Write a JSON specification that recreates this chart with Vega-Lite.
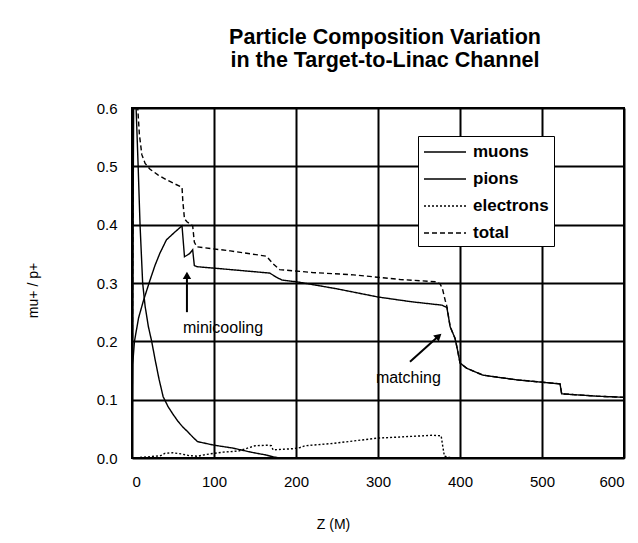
{
  "$schema": "https://vega.github.io/schema/vega-lite/v6.json",
  "width": 492,
  "height": 350,
  "autosize": {"type": "none"},
  "padding": {"left": 132, "top": 108, "right": 14, "bottom": 85},
  "background": "white",
  "config": {
    "font": "Liberation Sans",
    "view": {"stroke": "black", "strokeWidth": 2},
    "axis": {"gridColor": "black", "gridWidth": 2, "gridOpacity": 1, "domain": false, "ticks": false, "tickSize": 0, "labelColor": "black", "titleColor": "black", "labelFont": "Liberation Sans", "titleFont": "Liberation Sans"}
  },
  "title": {
    "text": ["Particle Composition Variation", "in the Target-to-Linac Channel"],
    "font": "Liberation Sans",
    "fontSize": 21.5,
    "fontWeight": "bold",
    "color": "black",
    "anchor": "middle",
    "dx": 7,
    "offset": 30,
    "lineHeight": 23
  },
  "datasets": {
    "lines": [
      {"series": "muons", "z": 0, "v": 0},
      {"series": "muons", "z": 0.8, "v": 0.16},
      {"series": "muons", "z": 3, "v": 0.2},
      {"series": "muons", "z": 8, "v": 0.24},
      {"series": "muons", "z": 14, "v": 0.27},
      {"series": "muons", "z": 22, "v": 0.305},
      {"series": "muons", "z": 28, "v": 0.33},
      {"series": "muons", "z": 34, "v": 0.351},
      {"series": "muons", "z": 42, "v": 0.374},
      {"series": "muons", "z": 52, "v": 0.387},
      {"series": "muons", "z": 61, "v": 0.398},
      {"series": "muons", "z": 64, "v": 0.345},
      {"series": "muons", "z": 70, "v": 0.35},
      {"series": "muons", "z": 74, "v": 0.357},
      {"series": "muons", "z": 76, "v": 0.33},
      {"series": "muons", "z": 79, "v": 0.328},
      {"series": "muons", "z": 120, "v": 0.323},
      {"series": "muons", "z": 168, "v": 0.317},
      {"series": "muons", "z": 176, "v": 0.31},
      {"series": "muons", "z": 183, "v": 0.305},
      {"series": "muons", "z": 201, "v": 0.302},
      {"series": "muons", "z": 250, "v": 0.29},
      {"series": "muons", "z": 300, "v": 0.276},
      {"series": "muons", "z": 340, "v": 0.268},
      {"series": "muons", "z": 378, "v": 0.262},
      {"series": "muons", "z": 384, "v": 0.258},
      {"series": "muons", "z": 388, "v": 0.225},
      {"series": "muons", "z": 394, "v": 0.205},
      {"series": "muons", "z": 397, "v": 0.185},
      {"series": "muons", "z": 400, "v": 0.163},
      {"series": "muons", "z": 408, "v": 0.154},
      {"series": "muons", "z": 428, "v": 0.142},
      {"series": "muons", "z": 469, "v": 0.134},
      {"series": "muons", "z": 522, "v": 0.127},
      {"series": "muons", "z": 524, "v": 0.11},
      {"series": "muons", "z": 567, "v": 0.106},
      {"series": "muons", "z": 600, "v": 0.104},
      {"series": "pions", "z": 0, "v": 0},
      {"series": "pions", "z": 2, "v": 0.6},
      {"series": "pions", "z": 5, "v": 0.6},
      {"series": "pions", "z": 7.5, "v": 0.5},
      {"series": "pions", "z": 9.8, "v": 0.4},
      {"series": "pions", "z": 13, "v": 0.3},
      {"series": "pions", "z": 16, "v": 0.26},
      {"series": "pions", "z": 20, "v": 0.225},
      {"series": "pions", "z": 24, "v": 0.2},
      {"series": "pions", "z": 28, "v": 0.17},
      {"series": "pions", "z": 33, "v": 0.135},
      {"series": "pions", "z": 38, "v": 0.105},
      {"series": "pions", "z": 44, "v": 0.088},
      {"series": "pions", "z": 50, "v": 0.075},
      {"series": "pions", "z": 56, "v": 0.063},
      {"series": "pions", "z": 62, "v": 0.053},
      {"series": "pions", "z": 68, "v": 0.045},
      {"series": "pions", "z": 74, "v": 0.036},
      {"series": "pions", "z": 80, "v": 0.028},
      {"series": "pions", "z": 100, "v": 0.022},
      {"series": "pions", "z": 123, "v": 0.017},
      {"series": "pions", "z": 145, "v": 0.01},
      {"series": "pions", "z": 164, "v": 0.005},
      {"series": "pions", "z": 172, "v": 0.002},
      {"series": "pions", "z": 180, "v": 0},
      {"series": "pions", "z": 600, "v": 0},
      {"series": "electrons", "z": 0, "v": 0},
      {"series": "electrons", "z": 20, "v": 0.002},
      {"series": "electrons", "z": 35, "v": 0.004},
      {"series": "electrons", "z": 40, "v": 0.008},
      {"series": "electrons", "z": 50, "v": 0.009},
      {"series": "electrons", "z": 60, "v": 0.007},
      {"series": "electrons", "z": 70, "v": 0.004},
      {"series": "electrons", "z": 80, "v": 0.003},
      {"series": "electrons", "z": 90, "v": 0.006},
      {"series": "electrons", "z": 100, "v": 0.008},
      {"series": "electrons", "z": 111, "v": 0.01},
      {"series": "electrons", "z": 130, "v": 0.012},
      {"series": "electrons", "z": 150, "v": 0.021},
      {"series": "electrons", "z": 165, "v": 0.022},
      {"series": "electrons", "z": 170, "v": 0.021},
      {"series": "electrons", "z": 172, "v": 0.014},
      {"series": "electrons", "z": 197, "v": 0.016},
      {"series": "electrons", "z": 205, "v": 0.018},
      {"series": "electrons", "z": 211, "v": 0.021},
      {"series": "electrons", "z": 245, "v": 0.025},
      {"series": "electrons", "z": 299, "v": 0.034},
      {"series": "electrons", "z": 340, "v": 0.037},
      {"series": "electrons", "z": 367, "v": 0.039},
      {"series": "electrons", "z": 377, "v": 0.038},
      {"series": "electrons", "z": 379, "v": 0.02},
      {"series": "electrons", "z": 381, "v": 0.003},
      {"series": "electrons", "z": 390, "v": 0},
      {"series": "electrons", "z": 600, "v": 0},
      {"series": "total", "z": 0, "v": 0},
      {"series": "total", "z": 1.5, "v": 0.6},
      {"series": "total", "z": 7, "v": 0.6},
      {"series": "total", "z": 9, "v": 0.555},
      {"series": "total", "z": 12, "v": 0.52},
      {"series": "total", "z": 16, "v": 0.505},
      {"series": "total", "z": 22, "v": 0.495},
      {"series": "total", "z": 32, "v": 0.485},
      {"series": "total", "z": 42, "v": 0.477},
      {"series": "total", "z": 52, "v": 0.47},
      {"series": "total", "z": 61, "v": 0.464},
      {"series": "total", "z": 62, "v": 0.44},
      {"series": "total", "z": 64, "v": 0.41},
      {"series": "total", "z": 67, "v": 0.405},
      {"series": "total", "z": 74, "v": 0.398},
      {"series": "total", "z": 76, "v": 0.37},
      {"series": "total", "z": 79, "v": 0.362},
      {"series": "total", "z": 120, "v": 0.355},
      {"series": "total", "z": 164, "v": 0.346},
      {"series": "total", "z": 172, "v": 0.333},
      {"series": "total", "z": 180, "v": 0.323},
      {"series": "total", "z": 220, "v": 0.318},
      {"series": "total", "z": 270, "v": 0.314},
      {"series": "total", "z": 327, "v": 0.306},
      {"series": "total", "z": 372, "v": 0.302},
      {"series": "total", "z": 376, "v": 0.298},
      {"series": "total", "z": 379, "v": 0.288},
      {"series": "total", "z": 382, "v": 0.27},
      {"series": "total", "z": 384, "v": 0.26},
      {"series": "total", "z": 388, "v": 0.225},
      {"series": "total", "z": 394, "v": 0.205},
      {"series": "total", "z": 397, "v": 0.185},
      {"series": "total", "z": 400, "v": 0.163},
      {"series": "total", "z": 408, "v": 0.154},
      {"series": "total", "z": 428, "v": 0.142},
      {"series": "total", "z": 469, "v": 0.134},
      {"series": "total", "z": 522, "v": 0.127},
      {"series": "total", "z": 524, "v": 0.11},
      {"series": "total", "z": 567, "v": 0.106},
      {"series": "total", "z": 600, "v": 0.104}
    ]
  },
  "layer": [
    {
      "data": {"name": "lines"},
      "mark": {"type": "line", "color": "black", "strokeWidth": 1.4, "clip": true},
      "encoding": {
        "x": {
          "field": "z", "type": "quantitative",
          "scale": {"domain": [0, 600], "nice": false},
          "axis": {"values": [0, 100, 200, 300, 400, 500, 600], "title": "Z (M)", "labelFontSize": 15, "labelPadding": 16, "titleFontSize": 14, "titleFontWeight": "normal", "titleX": 201, "titleY": 66, "titleBaseline": "middle", "titleAlign": "center"}
        },
        "y": {
          "field": "v", "type": "quantitative",
          "scale": {"domain": [0, 0.6], "nice": false},
          "axis": {"values": [0, 0.1, 0.2, 0.3, 0.4, 0.5, 0.6], "format": ".1f", "title": "mu+ / p+", "labelFontSize": 15, "labelPadding": 15, "titleFontSize": 14, "titleFontWeight": "normal", "titleX": -99, "titleY": 182, "titleAngle": -90, "titleBaseline": "middle", "titleAlign": "center"}
        },
        "strokeDash": {
          "field": "series", "type": "nominal",
          "scale": {"domain": ["muons", "pions", "electrons", "total"], "range": [[1, 0], [1, 0], [2, 2], [5, 3]]},
          "legend": {
            "title": null, "orient": "none", "legendX": 286, "legendY": 28,
            "fillColor": "white", "strokeColor": "black", "padding": 5,
            "symbolType": "M-2.1,0H2.1", "symbolSize": 400, "symbolStrokeWidth": 1.5, "symbolStrokeColor": "black", "symbolOffset": 11,
            "labelFontSize": 17, "labelFontWeight": "bold", "labelFont": "Liberation Sans", "labelColor": "black",
            "rowPadding": 8, "labelOffset": 17
          }
        },
        "order": {"field": "z", "type": "quantitative"}
      }
    },
    {
      "data": {"values": [{"label": "minicooling", "z": 111, "v": 0.223}, {"label": "matching", "z": 337, "v": 0.137}]},
      "mark": {"type": "text", "fontSize": 16, "color": "black", "align": "center", "baseline": "middle", "font": "Liberation Sans"},
      "encoding": {
        "x": {"field": "z", "type": "quantitative"},
        "y": {"field": "v", "type": "quantitative"},
        "text": {"field": "label"}
      }
    },
    {
      "data": {"values": [{"z": 67, "v": 0.25, "z2": 67, "v2": 0.31}, {"z": 339, "v": 0.165, "z2": 374, "v2": 0.209}]},
      "mark": {"type": "rule", "color": "black", "strokeWidth": 2},
      "encoding": {
        "x": {"field": "z", "type": "quantitative"},
        "y": {"field": "v", "type": "quantitative"},
        "x2": {"field": "z2"},
        "y2": {"field": "v2"}
      }
    },
    {
      "data": {"values": [{"z": 67, "v": 0.313}]},
      "mark": {"type": "point", "shape": "triangle-up", "filled": true, "color": "black", "size": 70, "opacity": 1},
      "encoding": {
        "x": {"field": "z", "type": "quantitative"},
        "y": {"field": "v", "type": "quantitative"}
      }
    },
    {
      "data": {"values": [{"z": 374, "v": 0.209}]},
      "mark": {"type": "point", "shape": "triangle-up", "filled": true, "color": "black", "size": 70, "opacity": 1, "angle": 48},
      "encoding": {
        "x": {"field": "z", "type": "quantitative"},
        "y": {"field": "v", "type": "quantitative"}
      }
    }
  ]
}
